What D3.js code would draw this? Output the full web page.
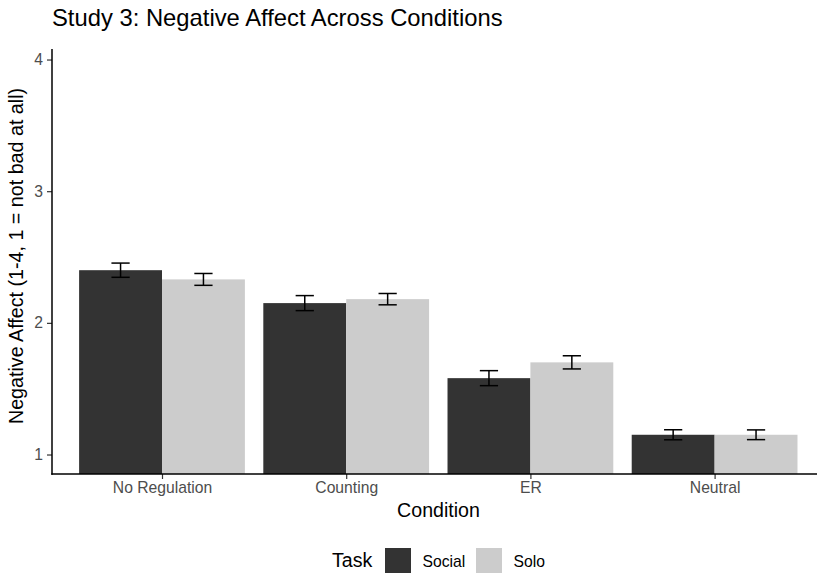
<!DOCTYPE html>
<html>
<head>
<meta charset="utf-8">
<script src="https://cdn.jsdelivr.net/npm/d3@7"></script>
<style>
  body { margin: 0; background: #fff; }
  text { font-family: "Liberation Sans", Arial, Helvetica, sans-serif; }
</style>
</head>
<body>
<div class="chart"></div>
<script>
// data
const conditions = ["No Regulation", "Counting", "ER", "Neutral"];
const tasks = ["Social", "Solo"];
const socialMean = [2.40, 2.15, 1.58, 1.15];
const soloMean = [2.33, 2.18, 1.70, 1.15];
const socialSE = [0.054, 0.057, 0.057, 0.038];
const soloSE = [0.045, 0.043, 0.050, 0.037];
const yTicks = [1, 2, 3, 4];
const taskColors = ["#333333", "#cccccc"];

const rows = [];
conditions.forEach((c, i) => {
  rows.push({ cond: c, task: "Social", mean: socialMean[i], se: socialSE[i] });
  rows.push({ cond: c, task: "Solo", mean: soloMean[i], se: soloSE[i] });
});

const W = 817, H = 579;
const panel = { left: 52, right: 825, top: 49, bottom: 474 };

const svg = d3.select(".chart").append("svg")
  .attr("width", W)
  .attr("height", H);

const step = 184.2;
const xScale = d3.scalePoint().domain(conditions).range([162, 162 + 3 * step]);
const xSub = d3.scaleBand().domain(tasks).range([-step * 0.45, step * 0.45]);
const yScale = d3.scaleLinear().domain([0.852, 4.08]).range([panel.bottom, panel.top]);
const colorScale = d3.scaleOrdinal().domain(tasks).range(taskColors);

// bars
svg.selectAll(".bar")
  .data(rows)
  .enter()
  .append("rect")
  .attr("class", "bar")
  .attr("x", d => xScale(d.cond) + xSub(d.task))
  .attr("width", xSub.bandwidth())
  .attr("y", d => yScale(d.mean))
  .attr("height", d => panel.bottom - yScale(d.mean))
  .attr("fill", d => colorScale(d.task));

// error bars
const ew = xSub.bandwidth() * 0.11;
const eb = svg.selectAll(".err")
  .data(rows)
  .enter()
  .append("g")
  .attr("class", "err")
  .attr("transform", d => `translate(${xScale(d.cond) + xSub(d.task) + xSub.bandwidth() / 2},0)`)
  .attr("stroke", "#000")
  .attr("stroke-width", 1.5);
eb.append("line")
  .attr("x1", 0).attr("x2", 0)
  .attr("y1", d => yScale(d.mean + d.se))
  .attr("y2", d => yScale(d.mean - d.se));
eb.append("line")
  .attr("x1", -ew).attr("x2", ew)
  .attr("y1", d => yScale(d.mean + d.se))
  .attr("y2", d => yScale(d.mean + d.se));
eb.append("line")
  .attr("x1", -ew).attr("x2", ew)
  .attr("y1", d => yScale(d.mean - d.se))
  .attr("y2", d => yScale(d.mean - d.se));

// axes
const yAxis = d3.axisLeft(yScale).tickValues(yTicks).tickSize(5).tickPadding(4).tickFormat(d3.format("d"));
const xAxis = d3.axisBottom(xScale).tickSize(5).tickPadding(3);

const yG = svg.append("g")
  .attr("transform", `translate(${panel.left},0)`)
  .call(yAxis);
yG.select(".domain").remove();
yG.append("line")
  .attr("x1", 0).attr("x2", 0)
  .attr("y1", panel.top).attr("y2", panel.bottom + 0.75)
  .attr("stroke", "#000").attr("stroke-width", 1.5);

const xG = svg.append("g")
  .attr("transform", `translate(0,${panel.bottom})`)
  .call(xAxis);
xG.select(".domain").remove();
xG.append("line")
  .attr("x1", panel.left - 0.75).attr("x2", panel.right)
  .attr("y1", 0).attr("y2", 0)
  .attr("stroke", "#000").attr("stroke-width", 1.5);

svg.selectAll(".tick line").attr("stroke", "#333333").attr("stroke-width", 1.2);
svg.selectAll(".tick text")
  .attr("fill", "#4d4d4d")
  .style("font-size", "15.7px")
  .style("font-family", "'Liberation Sans', Arial, Helvetica, sans-serif");

// titles
svg.append("text")
  .attr("x", panel.left)
  .attr("y", 26)
  .attr("font-size", "23.8px")
  .attr("fill", "#000")
  .text("Study 3: Negative Affect Across Conditions");

svg.append("text")
  .attr("x", (panel.left + panel.right) / 2)
  .attr("y", 517)
  .attr("text-anchor", "middle")
  .attr("font-size", "19.6px")
  .text("Condition");

svg.append("text")
  .attr("transform", "translate(23,256) rotate(-90)")
  .attr("text-anchor", "middle")
  .attr("font-size", "19.7px")
  .text("Negative Affect (1-4, 1 = not bad at all)");

// legend
const legend = svg.append("g").attr("class", "legend");
legend.append("text")
  .attr("x", 332)
  .attr("y", 567)
  .attr("font-size", "19.6px")
  .text("Task");
const keyX = [385, 476];
tasks.forEach((t, i) => {
  legend.append("rect")
    .attr("x", keyX[i])
    .attr("y", 548)
    .attr("width", 26)
    .attr("height", 25)
    .attr("fill", colorScale(t));
  legend.append("text")
    .attr("x", keyX[i] + 37.5)
    .attr("y", 566.5)
    .attr("font-size", "15.7px")
    .attr("fill", "#000")
    .text(t);
});
</script>
</body>
</html>
